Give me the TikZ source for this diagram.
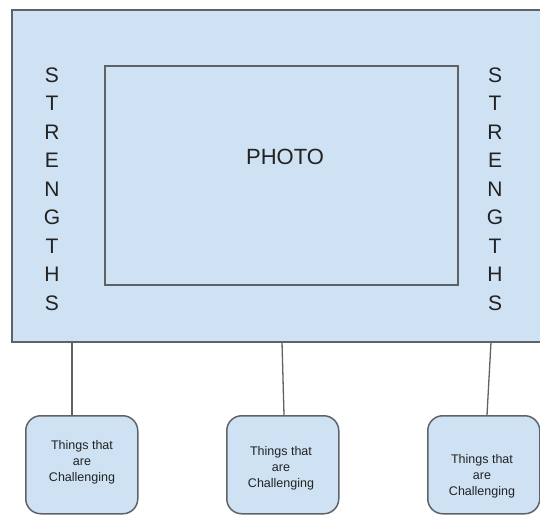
\documentclass[tikz,border=0pt]{standalone}
\usepackage{fontspec}
\setmainfont{Liberation Sans}
\definecolor{boxfill}{HTML}{CFE2F3}
\definecolor{edge}{HTML}{5F6368}
\definecolor{ink}{HTML}{222222}
\begin{document}
\begin{tikzpicture}[x=1pt,y=-1pt,
  panel/.style={draw=edge,fill=boxfill,line width=1.8pt},
  photobox/.style={draw=edge,line width=1.5pt},
  challenge/.style={draw=edge,fill=boxfill,line width=1.5pt,rounded corners=15pt,minimum width=112pt,minimum height=98pt,inner sep=0pt},
  ctext/.style={font=\fontsize{12.5}{16}\selectfont,text=ink,align=center},
  bigletter/.style={font=\fontsize{21}{28.5}\selectfont,text=ink,align=center},
  link/.style={draw=edge,line width=1.3pt}]
\useasboundingbox (0,0) rectangle (540,514);
\clip (0,0) rectangle (540,514);
\fill[white] (0,0) rectangle (540,514);
\draw[panel] (12,10) rectangle (548,342);
\draw[photobox] (105,66) rectangle (458,285);
\node[font=\fontsize{22}{26}\selectfont,text=ink] (photo) at (285,157) {PHOTO};
\node[bigletter,anchor=north] (sl) at (52,64) {S\\T\\R\\E\\N\\G\\T\\H\\S};
\node[bigletter,anchor=north] (sr) at (495,64) {S\\T\\R\\E\\N\\G\\T\\H\\S};
\node[challenge,anchor=north west] (c1) at (25,415) {};
\node[challenge,anchor=north west] (c2) at (226,415) {};
\node[challenge,anchor=north west] (c3) at (427,415) {};
\node[ctext] (t1) at (82,462) {Things that\\are\\Challenging};
\node[ctext] (t2) at (281,468) {Things that\\are\\Challenging};
\node[ctext] (t3) at (482,476) {Things that\\are\\Challenging};
\coordinate (a1) at (72,342);
\coordinate (a2) at (282,342);
\coordinate (a3) at (491,342);
\draw[link] (a1) -- (a1 |- c1.north);
\draw[link] (a2) -- (284,415);
\draw[link] (a3) -- (487,415);
\end{tikzpicture}
\end{document}
